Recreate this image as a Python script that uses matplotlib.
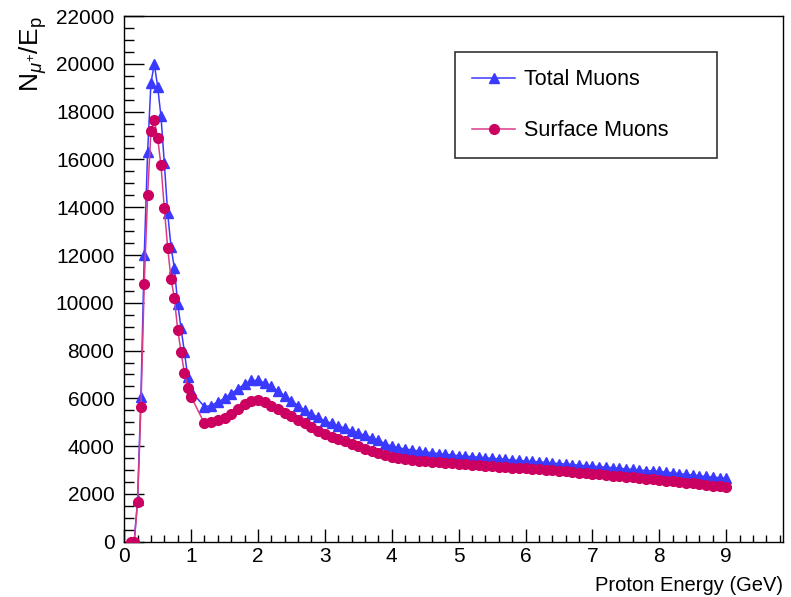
import matplotlib
matplotlib.use("Agg")
import matplotlib.pyplot as plt
from matplotlib.ticker import MultipleLocator

# Proton energy grid (GeV): fine steps through the peak, coarser afterwards
energy_peak = [0.10, 0.15, 0.20, 0.25, 0.30, 0.35, 0.40, 0.45, 0.50, 0.55,
               0.60, 0.65, 0.70, 0.75, 0.80, 0.85, 0.90, 0.95, 1.00]
energy_tail = [1.2, 1.3, 1.4, 1.5, 1.6, 1.7, 1.8, 1.9, 2.0,
               2.1, 2.2, 2.3, 2.4, 2.5, 2.6, 2.7, 2.8, 2.9, 3.0,
               3.1, 3.2, 3.3, 3.4, 3.5, 3.6, 3.7, 3.8, 3.9, 4.0,
               4.1, 4.2, 4.3, 4.4, 4.5, 4.6, 4.7, 4.8, 4.9, 5.0,
               5.1, 5.2, 5.3, 5.4, 5.5, 5.6, 5.7, 5.8, 5.9, 6.0,
               6.1, 6.2, 6.3, 6.4, 6.5, 6.6, 6.7, 6.8, 6.9, 7.0,
               7.1, 7.2, 7.3, 7.4, 7.5, 7.6, 7.7, 7.8, 7.9, 8.0,
               8.1, 8.2, 8.3, 8.4, 8.5, 8.6, 8.7, 8.8, 8.9, 9.0]

total_peak = [0, 0, 1750, 6070, 12000, 16300, 19200, 20000, 19050, 17800,
              15850, 13750, 12350, 11450, 9970, 8930, 7950, 6900, 6300]
total_tail = [5650, 5700, 5850, 6000, 6200, 6400, 6600, 6750, 6750,
              6650, 6500, 6300, 6100, 5900, 5700, 5500, 5350, 5200, 5050,
              4950, 4850, 4750, 4650, 4550, 4450, 4350, 4250, 4100, 4000,
              3930, 3880, 3840, 3800, 3760, 3720, 3690, 3660, 3630, 3600,
              3580, 3560, 3540, 3510, 3490, 3470, 3450, 3420, 3400, 3380,
              3360, 3340, 3320, 3290, 3270, 3250, 3230, 3200, 3180, 3160,
              3140, 3120, 3100, 3070, 3050, 3030, 3000, 2980, 2960, 2940,
              2910, 2880, 2850, 2820, 2790, 2760, 2730, 2700, 2680, 2650]

surface_peak = [0, 0, 1650, 5630, 10800, 14500, 17200, 17650, 16900, 15750,
                13950, 12300, 11000, 10200, 8870, 7950, 7050, 6420, 6070]
surface_tail = [4950, 5000, 5080, 5180, 5350, 5550, 5750, 5880, 5920,
                5830, 5700, 5550, 5400, 5250, 5100, 4950, 4800, 4650, 4500,
                4400, 4300, 4200, 4100, 4000, 3900, 3800, 3700, 3620, 3550,
                3500, 3460, 3420, 3390, 3360, 3340, 3320, 3300, 3280, 3260,
                3240, 3220, 3200, 3180, 3160, 3140, 3120, 3100, 3090, 3070,
                3050, 3030, 3010, 2990, 2960, 2940, 2920, 2890, 2870, 2850,
                2820, 2800, 2770, 2750, 2720, 2700, 2670, 2640, 2620, 2590,
                2560, 2530, 2500, 2470, 2440, 2410, 2380, 2350, 2320, 2280]

energy = energy_peak + energy_tail
total = total_peak + total_tail
surface = surface_peak + surface_tail

BLUE = "#3a3aff"
PINK_LINE = "#dc3c86"
PINK_MARK = "#cc0060"

plt.rcParams.update({
    "font.family": ["Liberation Sans", "DejaVu Sans"],
    "mathtext.fontset": "custom",
    "mathtext.rm": "Liberation Sans",
    "mathtext.it": "Liberation Sans:italic",
    "font.size": 15,
})

fig = plt.figure(figsize=(7.91, 5.97), dpi=100)
ax = fig.add_axes([0.157, 0.0926, 0.833, 0.8804])

ax.plot(energy, total, color=BLUE, lw=1.1, marker="^", ms=7.5,
        mfc=BLUE, mec=BLUE, label="Total Muons", zorder=3)
ax.plot(energy, surface, color=PINK_LINE, lw=1.1, marker="o", ms=7,
        mfc=PINK_MARK, mec=PINK_MARK, label="Surface Muons", zorder=4)

ax.set_xlim(0, 9.85)
ax.set_ylim(0, 22000)
ax.xaxis.set_major_locator(MultipleLocator(1))
ax.xaxis.set_minor_locator(MultipleLocator(0.2))
ax.yaxis.set_major_locator(MultipleLocator(2000))
ax.yaxis.set_minor_locator(MultipleLocator(500))
ax.set_xticks(range(0, 10))

ax.tick_params(axis="x", which="major", direction="in", length=9.5, width=1,
               top=False, pad=4, labelsize=15)
ax.tick_params(axis="x", which="minor", direction="in", length=5, width=1,
               top=False)
ax.tick_params(axis="y", which="major", direction="in", length=14.5, width=1,
               right=False, pad=7, labelsize=15)
ax.tick_params(axis="y", which="minor", direction="in", length=7.5, width=1,
               right=False)
for sp in ax.spines.values():
    sp.set_linewidth(1)

ax.set_xlabel("Proton Energy (GeV)", loc="right", fontsize=14.5, labelpad=7)
ax.set_ylabel(r"N$_{\mu^{+}}$/E$_{\rm p}$", loc="top", fontsize=19, labelpad=5)

leg = ax.legend(loc="upper left", bbox_to_anchor=(0.502, 0.932, 0.398, 0.0),
                mode="expand", fontsize=15.5, frameon=True, fancybox=False,
                handlelength=2.0, handletextpad=0.4, labelspacing=1.4,
                borderpad=0.8, borderaxespad=0)
leg.get_frame().set_edgecolor("black")
leg.get_frame().set_linewidth(1.2)

fig.savefig("out.png", dpi=100)
